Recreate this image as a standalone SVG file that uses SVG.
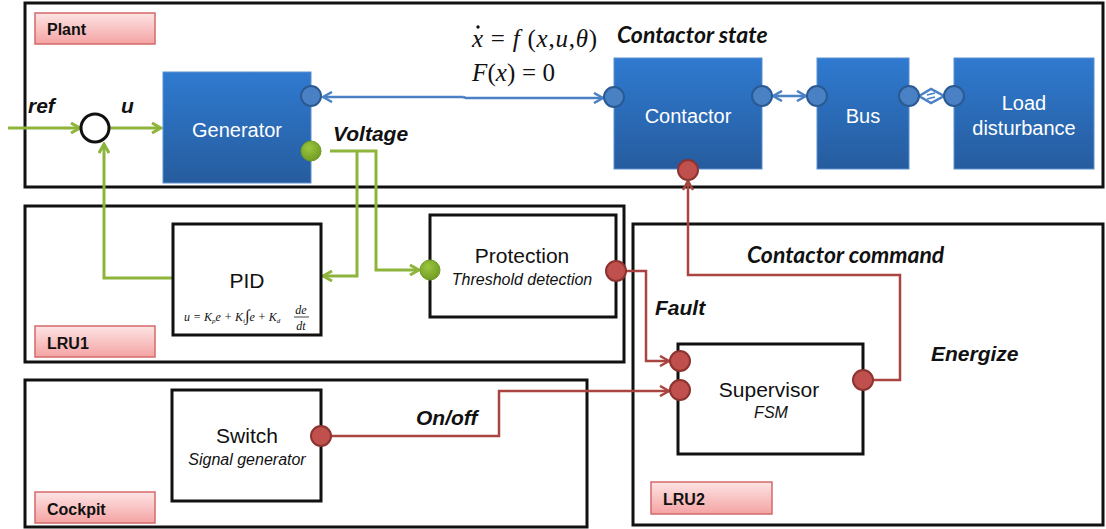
<svg xmlns="http://www.w3.org/2000/svg" width="1106" height="529" viewBox="0 0 1106 529">
<defs>
<linearGradient id="gBlue" x1="0" y1="0" x2="0" y2="1"><stop offset="0" stop-color="#2f7ad0"/><stop offset="1" stop-color="#265c9e"/></linearGradient>
<linearGradient id="gPink" x1="0" y1="0" x2="0" y2="1"><stop offset="0" stop-color="#fde4e4"/><stop offset="1" stop-color="#f5a3a3"/></linearGradient>
<radialGradient id="gGreen" cx="0.4" cy="0.35" r="0.7"><stop offset="0" stop-color="#9cc63e"/><stop offset="1" stop-color="#6e9a22"/></radialGradient>
<marker id="aGreen" markerWidth="12" markerHeight="12" refX="10" refY="6" orient="auto" markerUnits="userSpaceOnUse"><path d="M1,1 L10,6 L1,11" fill="none" stroke="#8db53c" stroke-width="3"/></marker>
<marker id="aRed" markerWidth="12" markerHeight="12" refX="10" refY="6" orient="auto" markerUnits="userSpaceOnUse"><path d="M1,1 L10,6 L1,11" fill="none" stroke="#a94440" stroke-width="2.5"/></marker>
<marker id="aBlue" markerWidth="12" markerHeight="12" refX="10" refY="6" orient="auto-start-reverse" markerUnits="userSpaceOnUse"><path d="M1,1 L10,6 L1,11" fill="none" stroke="#4a80c4" stroke-width="2.5"/></marker>
</defs>
<style>
.frame{fill:none;stroke:#111;stroke-width:3}
.box{fill:#fff;stroke:#111;stroke-width:3}
.blk{fill:url(#gBlue);stroke:#5d8fd0;stroke-width:1}
.lbl{fill:url(#gPink);stroke:#d46a6a;stroke-width:1.5}
.lblt{font-family:"Liberation Sans",Arial,sans-serif;font-weight:bold;font-size:16px;fill:#111}
.wt{font-family:"Liberation Sans",Arial,sans-serif;font-size:20px;fill:#fff;text-anchor:middle}
.bt{font-family:"Liberation Sans",Arial,sans-serif;font-size:21px;fill:#111;text-anchor:middle}
.it{font-family:"Liberation Sans",Arial,sans-serif;font-size:16px;font-style:italic;fill:#111;text-anchor:middle}
.sig{font-family:"Liberation Sans",Arial,sans-serif;font-size:21px;font-style:italic;font-weight:bold;fill:#111}
.cal{font-family:Lato,"Open Sans",sans-serif;font-size:23px;font-style:italic;font-weight:bold;fill:#111}
.eq{font-family:"Liberation Serif","Times New Roman",serif;font-size:25px;fill:#111}
.green{fill:none;stroke:#8db53c;stroke-width:3}
.red{fill:none;stroke:#a94440;stroke-width:2.5}
.blue{fill:none;stroke:#4a80c4;stroke-width:2.5}
.pb{fill:#4a80c4;stroke:#2a5a94;stroke-width:2}
.pg{fill:url(#gGreen);stroke:#6e9a22;stroke-width:1}
.pr{fill:#c0504d;stroke:#8c3330;stroke-width:2}
</style>

<g id="plant">
<rect class="frame" x="25" y="3" width="1078" height="184"/>
<rect class="lbl" x="35" y="13" width="120" height="31"/>
<text class="lblt" x="47" y="35">Plant</text>
</g>
<g id="lru1">
<rect class="frame" x="25" y="206" width="599" height="156"/>
<rect class="lbl" x="35" y="326" width="120" height="31"/>
<text class="lblt" x="47" y="349">LRU1</text>
</g>
<g id="cockpit">
<rect class="frame" x="25" y="380" width="562" height="147"/>
<rect class="lbl" x="35" y="492" width="120" height="31"/>
<text class="lblt" x="47" y="515">Cockpit</text>
</g>
<g id="lru2">
<rect class="frame" x="633" y="224" width="470" height="301"/>
<rect class="lbl" x="651" y="482" width="121" height="32"/>
<text class="lblt" x="663" y="505">LRU2</text>
</g>

<g id="connectors">
<path class="green" d="M8,128 L80,128" marker-end="url(#aGreen)"/>
<path class="green" d="M109,128 L161,128" marker-end="url(#aGreen)"/>
<path class="green" d="M173,278 L104,278 L104,144" marker-end="url(#aGreen)"/>
<path class="green" d="M330,151 L376,151 L376,270 L419,270" marker-end="url(#aGreen)"/>
<path class="green" d="M357,151 L357,276 L323,276" marker-end="url(#aGreen)"/>
<path class="blue" d="M463,97 L323,97" marker-end="url(#aBlue)"/>
<path class="blue" d="M463,97 L466,98 L603,98" marker-end="url(#aBlue)"/>
<path class="blue" d="M773,96 L806,96" marker-start="url(#aBlue)" marker-end="url(#aBlue)"/>
<path d="M919,96 L931,89 L944,96 L931,103 Z" fill="none" stroke="#4a80c4" stroke-width="2.5"/>
<path d="M927,95 L935,93 M927,99 L935,97" stroke="#4a80c4" stroke-width="1.5"/>
<path class="red" d="M626,271 L646,271 L646,361 L669,361" marker-end="url(#aRed)"/>
<path class="red" d="M331,436 L499,436 L499,391 L669,391" marker-end="url(#aRed)"/>
<path class="red" d="M873,380 L900,380 L900,275 L688,275 L688,181" marker-end="url(#aRed)"/>
</g>

<g id="sum"><circle cx="95" cy="128" r="14" fill="#fff" stroke="#111" stroke-width="3"/></g>
<g id="generator">
<rect class="blk" x="163" y="72" width="148" height="111"/>
<text class="wt" x="237" y="137" font-size="21">Generator</text>
<circle class="pb" cx="311" cy="96" r="10"/>
<circle class="pg" cx="311" cy="151" r="10"/>
</g>
<g id="contactor">
<rect class="blk" x="614" y="58" width="148" height="111"/>
<text class="wt" x="688" y="123">Contactor</text>
<circle class="pb" cx="614" cy="97" r="10"/>
<circle class="pb" cx="762" cy="96" r="10"/>
<circle class="pr" cx="688" cy="170" r="10"/>
</g>
<g id="bus">
<rect class="blk" x="817" y="58" width="92" height="111"/>
<text class="wt" x="863" y="123">Bus</text>
<circle class="pb" cx="817" cy="96" r="10"/>
<circle class="pb" cx="909" cy="96" r="10"/>
</g>
<g id="load">
<rect class="blk" x="954" y="58" width="140" height="111"/>
<text class="wt" x="1024" y="110">Load</text>
<text class="wt" x="1024" y="135">disturbance</text>
<circle class="pb" cx="954" cy="96" r="10"/>
</g>
<g id="pid">
<rect class="box" x="173" y="224" width="148" height="111"/>
<text class="bt" x="247" y="288" font-size="23">PID</text>
<text font-family="Liberation Serif,serif" font-style="italic" font-size="12" fill="#111" x="184" y="321">u = K<tspan font-size="7" dy="2">p</tspan><tspan dy="-2">e + K</tspan><tspan font-size="7" dy="2">i</tspan><tspan dy="-2" font-style="normal" font-size="16">∫</tspan><tspan>e + K</tspan><tspan font-size="7" dy="2">d</tspan></text>
<text font-family="Liberation Serif,serif" font-style="italic" font-size="12" fill="#111" x="301" y="314" text-anchor="middle">de</text>
<line x1="294" y1="317" x2="309" y2="317" stroke="#111" stroke-width="0.8"/>
<text font-family="Liberation Serif,serif" font-style="italic" font-size="12" fill="#111" x="301" y="330" text-anchor="middle">dt</text>
</g>
<g id="protection">
<rect class="box" x="430" y="215" width="186" height="102"/>
<text class="bt" x="522" y="263">Protection</text>
<text class="it" x="522" y="285">Threshold detection</text>
<circle class="pg" cx="430" cy="270" r="10"/>
<circle class="pr" cx="616" cy="271" r="10"/>
</g>
<g id="switch">
<rect class="box" x="172" y="390" width="149" height="111"/>
<text class="bt" x="247" y="443">Switch</text>
<text class="it" x="247" y="465">Signal generator</text>
<circle class="pr" cx="321" cy="436" r="10"/>
</g>
<g id="supervisor">
<rect class="box" x="678" y="344" width="185" height="110"/>
<text class="bt" x="769" y="397">Supervisor</text>
<text class="it" x="771" y="418">FSM</text>
<circle class="pr" cx="680" cy="361" r="10"/>
<circle class="pr" cx="680" cy="390" r="10"/>
<circle class="pr" cx="863" cy="380" r="10"/>
</g>

<g id="labels">
<text class="sig" x="28" y="113">ref</text>
<text class="sig" x="121" y="113">u</text>
<text class="sig" x="333" y="141">Voltage</text>
<text class="sig" x="655" y="315">Fault</text>
<text class="sig" x="416" y="425">On/off</text>
<text class="sig" x="931" y="361">Energize</text>
<text class="cal" x="617" y="43">Contactor state</text>
<text class="cal" x="747" y="263">Contactor command</text>
<text class="eq" x="472" y="47" textLength="125" lengthAdjust="spacing"><tspan font-style="italic">x</tspan> = <tspan font-style="italic">f</tspan> (<tspan font-style="italic">x</tspan>,<tspan font-style="italic">u</tspan>,<tspan font-style="italic">θ</tspan>)</text>
<circle cx="478" cy="27" r="1.7" fill="#111"/>
<text class="eq" x="472" y="81" textLength="83" lengthAdjust="spacing"><tspan font-style="italic">F</tspan>(<tspan font-style="italic">x</tspan>) = 0</text>
</g>
</svg>
